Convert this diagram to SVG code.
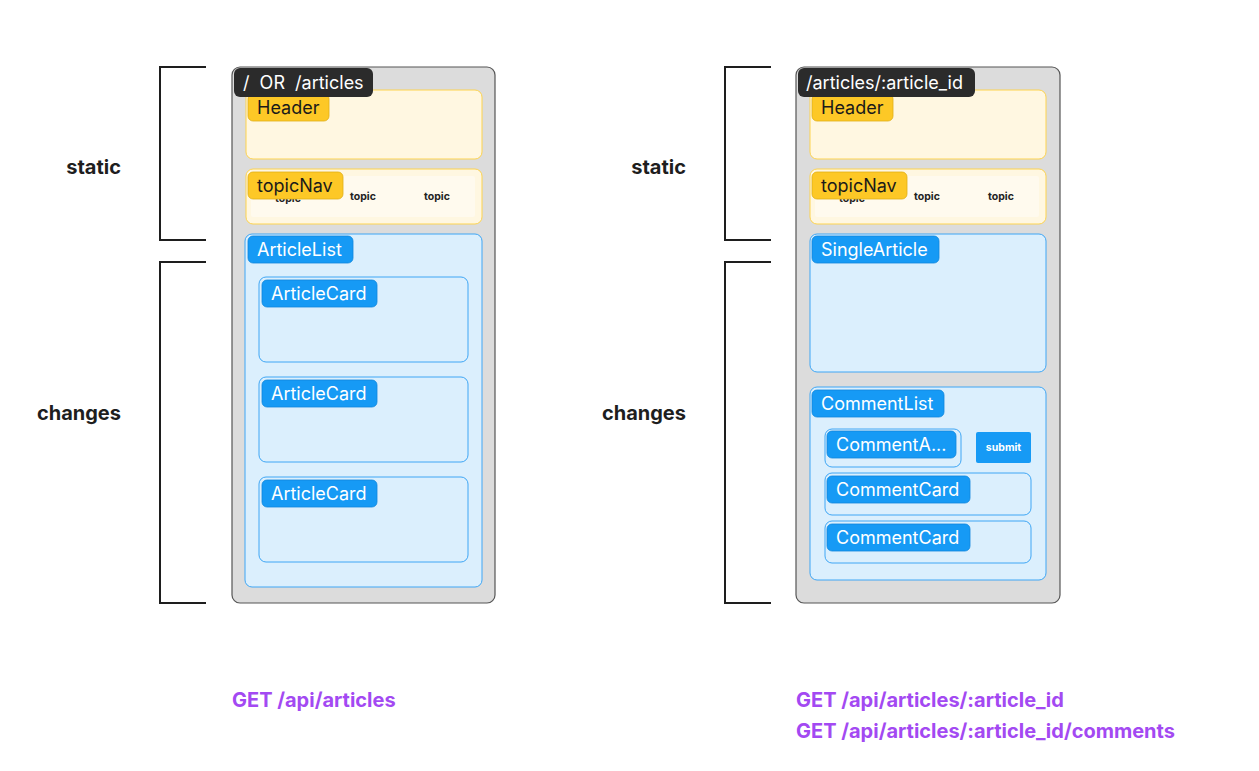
<svg xmlns="http://www.w3.org/2000/svg" width="1259" height="771" viewBox="0 0 1259 771">
<style>
.frame{fill:#dcdcdc;stroke:#555;stroke-width:1.2}
.tab{fill:#2b2b2b}
.tabt{fill:#fff;font-family:Inter,"Liberation Sans",sans-serif;font-size:18px}
.ybox{fill:#fff7e1;stroke:#fdd34f;stroke-width:1}
.yin{fill:#fffaee}
.ylab{fill:#fdc826;stroke:#e0ae14;stroke-width:0.8}
.ylabt{fill:#1a1a1a;font-family:Inter,"Liberation Sans",sans-serif;font-size:18px}
.bbox{fill:#dbeffd;stroke:#3ea6f5;stroke-width:1}
.blab{fill:#169af5;stroke:#0f86dc;stroke-width:0.8}
.blabt{fill:#fff;font-family:Inter,"Liberation Sans",sans-serif;font-size:18px}
.topic{fill:#222;font-family:Inter,"Liberation Sans",sans-serif;font-size:10.5px;font-weight:700}
.side{fill:#1e1e1e;font-family:Inter,"Liberation Sans",sans-serif;font-size:20px;font-weight:700;text-anchor:end}
.api{fill:#a349f2;font-family:Inter,"Liberation Sans",sans-serif;font-size:20px;font-weight:700}
.br{fill:none;stroke:#1e1e1e;stroke-width:2}
</style>

<g id="brackets">
  <path class="br" d="M206 67 H160 V240 H206"/>
  <path class="br" d="M206 262 H160 V603 H206"/>
  <path class="br" d="M771 67 H725 V240 H771"/>
  <path class="br" d="M771 262 H725 V603 H771"/>
</g>

<g id="side-labels">
  <text class="side" x="121" y="174">static</text>
  <text class="side" x="121" y="420">changes</text>
  <text class="side" x="686" y="174">static</text>
  <text class="side" x="686" y="420">changes</text>
</g>

<g id="page-articles">
  <rect class="frame" x="232" y="67" width="263" height="536" rx="8"/>
  <g id="header-left">
    <rect class="ybox" x="246" y="90" width="236" height="69" rx="7"/>
    <rect class="ylab" x="248" y="94" width="81" height="27" rx="5"/>
    <text class="ylabt" x="257" y="114">Header</text>
  </g>
  <g id="topicnav-left">
    <rect class="ybox" x="246" y="169" width="236" height="55" rx="7"/>
    <rect class="yin" x="251" y="176" width="224" height="41" rx="2"/>
    <text class="topic" x="275" y="202">topic</text>
    <text class="topic" x="350" y="200">topic</text>
    <text class="topic" x="424" y="200">topic</text>
    <rect class="ylab" x="248" y="172" width="95" height="27" rx="5"/>
    <text class="ylabt" x="257" y="192">topicNav</text>
  </g>
  <g id="articlelist">
    <rect class="bbox" x="245" y="234" width="237" height="353" rx="7"/>
    <rect class="blab" x="248" y="236" width="105" height="27" rx="5"/>
    <text class="blabt" x="257" y="256">ArticleList</text>
  </g>
  <g id="articlecard-1">
    <rect class="bbox" x="259" y="277" width="209" height="85" rx="7"/>
    <rect class="blab" x="262" y="280" width="115" height="27" rx="5"/>
    <text class="blabt" x="271" y="300">ArticleCard</text>
  </g>
  <g id="articlecard-2">
    <rect class="bbox" x="259" y="377" width="209" height="85" rx="7"/>
    <rect class="blab" x="262" y="380" width="115" height="27" rx="5"/>
    <text class="blabt" x="271" y="400">ArticleCard</text>
  </g>
  <g id="articlecard-3">
    <rect class="bbox" x="259" y="477" width="209" height="85" rx="7"/>
    <rect class="blab" x="262" y="480" width="115" height="27" rx="5"/>
    <text class="blabt" x="271" y="500">ArticleCard</text>
  </g>
  <g id="tab-left">
    <rect class="tab" x="234" y="68" width="139" height="29" rx="6"/>
    <text class="tabt" x="243" y="89" xml:space="preserve">/  OR  /articles</text>
  </g>
</g>

<g id="page-article">
  <rect class="frame" x="796" y="67" width="264" height="536" rx="8"/>
  <g id="header-right">
    <rect class="ybox" x="810" y="90" width="236" height="69" rx="7"/>
    <rect class="ylab" x="812" y="94" width="81" height="27" rx="5"/>
    <text class="ylabt" x="821" y="114">Header</text>
  </g>
  <g id="topicnav-right">
    <rect class="ybox" x="810" y="169" width="236" height="55" rx="7"/>
    <rect class="yin" x="815" y="176" width="224" height="41" rx="2"/>
    <text class="topic" x="839" y="202">topic</text>
    <text class="topic" x="914" y="200">topic</text>
    <text class="topic" x="988" y="200">topic</text>
    <rect class="ylab" x="812" y="172" width="95" height="27" rx="5"/>
    <text class="ylabt" x="821" y="192">topicNav</text>
  </g>
  <g id="singlearticle">
    <rect class="bbox" x="810" y="234" width="236" height="138" rx="7"/>
    <rect class="blab" x="812" y="236" width="127" height="27" rx="5"/>
    <text class="blabt" x="821" y="256">SingleArticle</text>
  </g>
  <g id="commentlist">
    <rect class="bbox" x="810" y="387" width="236" height="193" rx="7"/>
    <rect class="blab" x="812" y="390" width="132" height="27" rx="5"/>
    <text class="blabt" x="821" y="410">CommentList</text>
  </g>
  <g id="commentadder">
    <rect class="bbox" x="825" y="429" width="136" height="38" rx="7"/>
    <rect class="blab" x="827" y="431" width="129" height="27" rx="5"/>
    <text class="blabt" x="836" y="451">CommentA...</text>
  </g>
  <g id="submit">
    <rect x="976" y="432" width="55" height="31" rx="2" fill="#169af5"/>
    <text x="1003.5" y="451" text-anchor="middle" fill="#fff" font-family="Inter,'Liberation Sans',sans-serif" font-size="10.5" font-weight="700">submit</text>
  </g>
  <g id="commentcard-1">
    <rect class="bbox" x="825" y="473" width="206" height="42" rx="7"/>
    <rect class="blab" x="827" y="476" width="143" height="27" rx="5"/>
    <text class="blabt" x="836" y="496">CommentCard</text>
  </g>
  <g id="commentcard-2">
    <rect class="bbox" x="825" y="521" width="206" height="42" rx="7"/>
    <rect class="blab" x="827" y="524" width="143" height="27" rx="5"/>
    <text class="blabt" x="836" y="544">CommentCard</text>
  </g>
  <g id="tab-right">
    <rect class="tab" x="798" y="68" width="177" height="29" rx="6"/>
    <text class="tabt" x="806" y="89">/articles/:article_id</text>
  </g>
</g>

<g id="api-labels">
  <text class="api" x="232" y="707">GET /api/articles</text>
  <text class="api" x="796" y="707">GET /api/articles/:article_id</text>
  <text class="api" x="796" y="738">GET /api/articles/:article_id/comments</text>
</g>
</svg>
